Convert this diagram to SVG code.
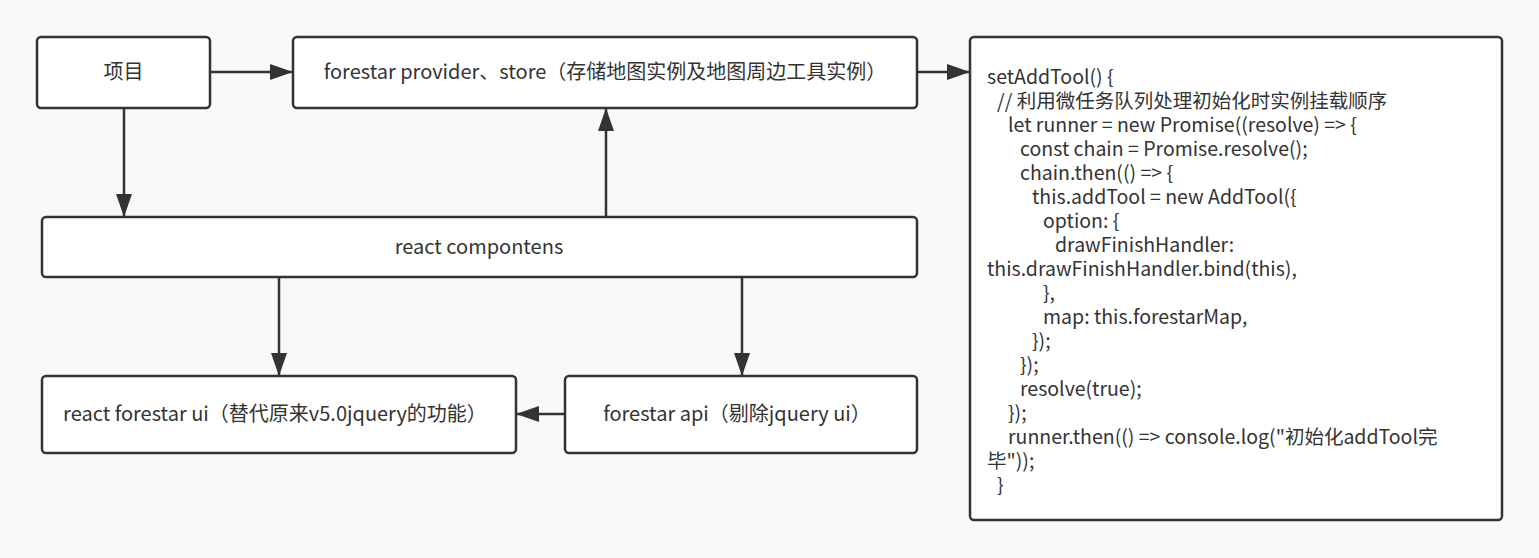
<svg xmlns="http://www.w3.org/2000/svg" width="1539" height="558" viewBox="0 0 1539 558">
<defs>
<style>
.node{fill:#ffffff;stroke:#333333;stroke-width:2.5}
.lbl{font-family:"Noto Sans CJK SC","Noto Sans",sans-serif;font-size:20px;fill:#333333;text-anchor:middle}
.code{font-family:"Noto Sans CJK SC","Noto Sans",sans-serif;font-size:19.5px;fill:#333333}
.edge{fill:none;stroke:#333333;stroke-width:2.5}
</style>
<marker id="arr" markerUnits="userSpaceOnUse" markerWidth="24" markerHeight="18" viewBox="0 0 24 18" refX="23" refY="9" orient="auto">
<path d="M0,1 L23,9 L0,17 Z" fill="#333333"/>
</marker>
</defs>
<rect width="1539" height="558" fill="#f9f9f9"/>
<g id="connectors">
<line class="edge" x1="210" y1="72" x2="293" y2="72" marker-end="url(#arr)"/>
<line class="edge" x1="124" y1="108" x2="124" y2="217" marker-end="url(#arr)"/>
<line class="edge" x1="606" y1="217" x2="606" y2="108" marker-end="url(#arr)"/>
<line class="edge" x1="917" y1="72" x2="970" y2="72" marker-end="url(#arr)"/>
<line class="edge" x1="279" y1="277" x2="279" y2="376" marker-end="url(#arr)"/>
<line class="edge" x1="742" y1="277" x2="742" y2="376" marker-end="url(#arr)"/>
<line class="edge" x1="565" y1="414" x2="516" y2="414" marker-end="url(#arr)"/>
</g>
<g id="node-project">
<rect class="node" x="37" y="37" width="173" height="71" rx="4"/>
<text class="lbl" x="123.5" y="79">项目</text>
</g>
<g id="node-provider">
<rect class="node" x="293" y="37" width="624" height="71" rx="4"/>
<text class="lbl" x="605" y="79">forestar provider、store（存储地图实例及地图周边工具实例）</text>
</g>
<g id="node-components">
<rect class="node" x="42" y="217" width="875" height="60" rx="4"/>
<text class="lbl" x="479" y="254">react compontens</text>
</g>
<g id="node-ui">
<rect class="node" x="42" y="376" width="474" height="77" rx="4"/>
<text class="lbl" x="275" y="421">react forestar ui（替代原来v5.0jquery的功能）</text>
</g>
<g id="node-api">
<rect class="node" x="565" y="376" width="352" height="77" rx="4"/>
<text class="lbl" x="737" y="421">forestar api（剔除jquery ui）</text>
</g>
<g id="node-code">
<rect class="node" x="970" y="37" width="532" height="483" rx="4"/>
<text class="code">
<tspan x="987" y="84">setAddTool() {</tspan>
<tspan x="997" y="108">// 利用微任务队列处理初始化时实例挂载顺序</tspan>
<tspan x="1008" y="132">let runner = new Promise((resolve) =&gt; {</tspan>
<tspan x="1020" y="156">const chain = Promise.resolve();</tspan>
<tspan x="1020" y="180">chain.then(() =&gt; {</tspan>
<tspan x="1032" y="204">this.addTool = new AddTool({</tspan>
<tspan x="1043" y="228">option: {</tspan>
<tspan x="1055" y="252">drawFinishHandler:</tspan>
<tspan x="987" y="276">this.drawFinishHandler.bind(this),</tspan>
<tspan x="1043" y="300">},</tspan>
<tspan x="1043" y="324">map: this.forestarMap,</tspan>
<tspan x="1032" y="348">});</tspan>
<tspan x="1020" y="372">});</tspan>
<tspan x="1020" y="396">resolve(true);</tspan>
<tspan x="1008" y="420">});</tspan>
<tspan x="1008" y="444">runner.then(() =&gt; console.log("初始化addTool完</tspan>
<tspan x="987" y="468">毕"));</tspan>
<tspan x="997" y="492">}</tspan>
</text>
</g>
</svg>
